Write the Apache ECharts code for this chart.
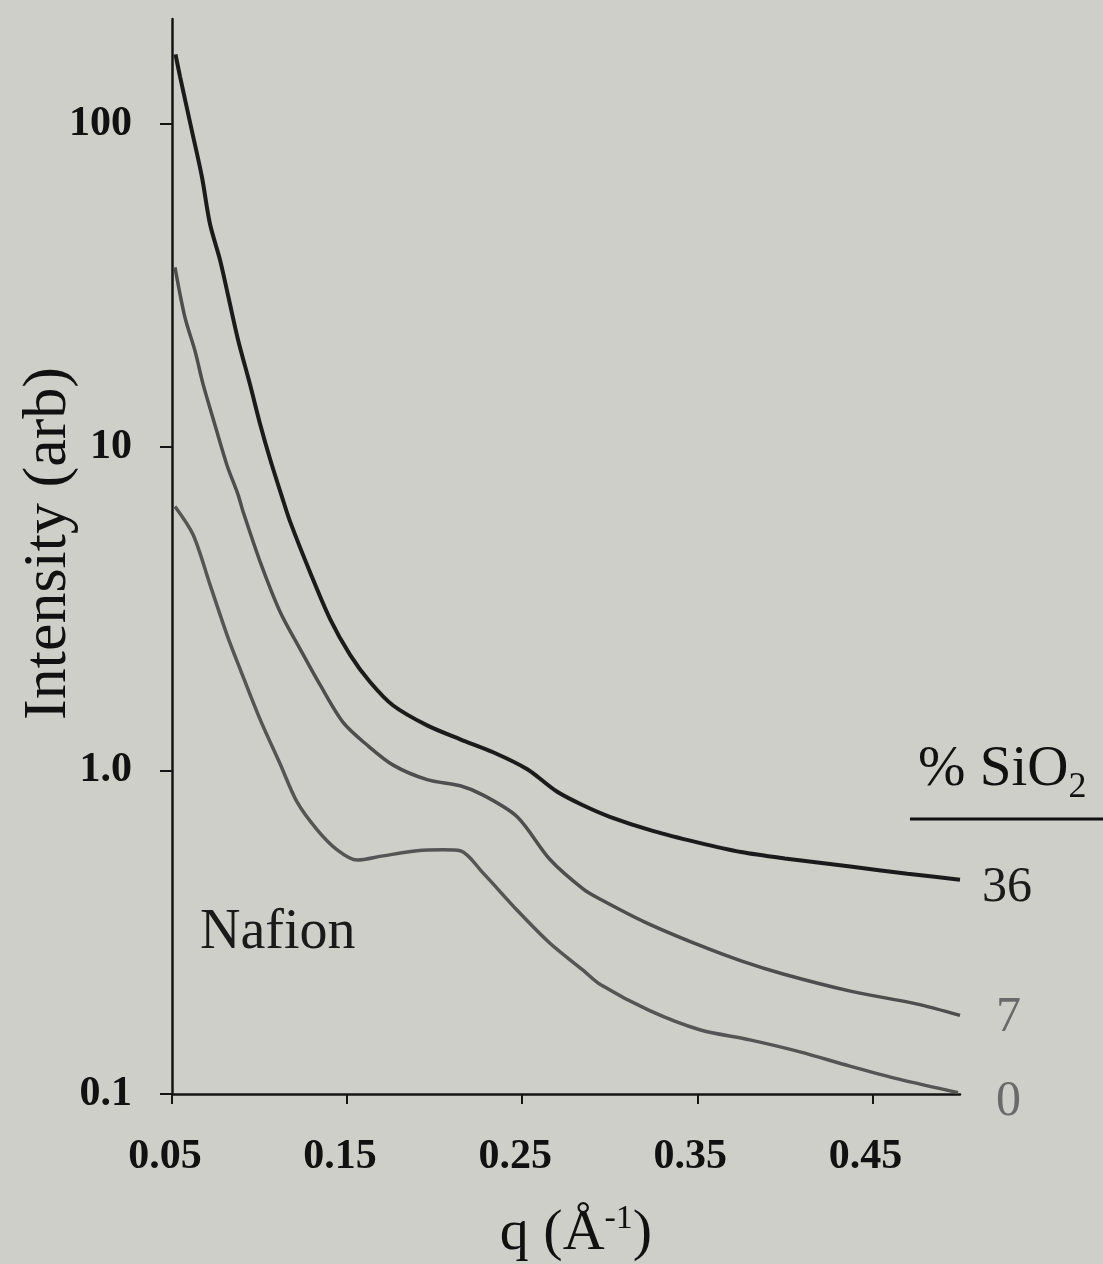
<!DOCTYPE html>
<html>
<head>
<meta charset="utf-8">
<script src="https://cdn.jsdelivr.net/npm/echarts@6/dist/echarts.min.js"></script>
<style>
html,body{margin:0;padding:0;background:#cdcfc8;}
#c{width:1103px;height:1264px;}
</style>
</head>
<body>
<div id="c"></div>
<script>
// q (1/Å) and intensity (arb), one pair of arrays per curve
const q36 = [0.052,0.0546,0.0614,0.0671,0.0717,0.0774,0.082,0.0877,0.0946,0.1003,0.106,0.1129,0.1174,0.1289,0.1403,0.1517,0.1631,0.1763,0.1957,0.2146,0.2334,0.2529,0.27,0.285,0.30,0.325,0.35,0.375,0.40,0.4374,0.47,0.5];
const i36 = [164,140,95,68.5,49,38,29.5,21.5,15.6,11.8,9.2,7.0,5.9,4.1,2.94,2.28,1.88,1.59,1.38,1.25,1.14,1.01,0.86,0.78,0.72,0.65,0.60,0.56,0.535,0.505,0.48,0.46];
const q7 = [0.0517,0.0574,0.0631,0.0677,0.0734,0.0814,0.0877,0.0906,0.1003,0.1117,0.1231,0.1346,0.1477,0.1614,0.1763,0.1957,0.2146,0.2277,0.2471,0.266,0.2849,0.2946,0.32,0.35,0.375,0.399,0.4374,0.475,0.5];
const i7 = [36,25.2,19.9,15.7,12.3,8.8,7.14,6.32,4.43,3.10,2.38,1.84,1.41,1.2,1.04,0.938,0.898,0.84,0.72,0.53,0.43,0.40,0.34,0.29,0.258,0.235,0.208,0.19,0.175];
const q0 = [0.0517,0.062,0.0717,0.0814,0.0889,0.1003,0.1117,0.1214,0.1329,0.1443,0.1557,0.1706,0.19,0.2049,0.2146,0.2277,0.2471,0.266,0.2849,0.2946,0.3228,0.3514,0.38,0.4086,0.4371,0.4657,0.4989];
const i0 = [6.56,5.37,3.76,2.63,2.06,1.44,1.05,0.80,0.656,0.569,0.529,0.545,0.565,0.569,0.565,0.482,0.37,0.292,0.241,0.218,0.181,0.158,0.147,0.135,0.122,0.111,0.101];
const xTicks = [0.05,0.15,0.25,0.35,0.45];
const yTicks = [0.1,1,10,100];
const yTickLabels = ['0.1','1.0','10','100'];
const seriesNames = ['36','7','0'];

const pairs = (xs, ys) => xs.map((x, k) => [x, ys[k]]);
const serif = 'Liberation Serif';
const chart = echarts.init(document.getElementById('c'), null, {renderer:'canvas'});

function lineSeries(name, xs, ys, color, width, labelColor, dist, dy){
  return {
    type:'line', name, data: pairs(xs, ys), showSymbol:false, symbol:'none', smooth:0.3,
    lineStyle:{color, width}, itemStyle:{color},
    endLabel:{show:true, formatter: name, distance: dist, offset:[0, dy], color: labelColor,
      fontFamily: serif, fontSize: 50},
    z: 3
  };
}

chart.setOption({
  backgroundColor:'#cdcfc8',
  animation:false,
  grid:{left:172, right:143, top:19, bottom:170, containLabel:false, outerBoundsMode:'none'},
  xAxis:{
    type:'value', min:0.05, max:0.5,
    axisLine:{show:true, lineStyle:{color:'#151515', width:2.5}},
    axisTick:{show:true, customValues: xTicks, length:10, inside:false, lineStyle:{color:'#151515', width:2}},
    axisLabel:{customValues: xTicks, margin:42, fontFamily: serif, fontWeight:'bold', fontSize:42, color:'#111',
      padding:[0,14,0,0], formatter: v => String(+v.toFixed(2))},
    splitLine:{show:false},
    name:'{a|q (Å}{s|-1}{a|)}', nameLocation:'middle', nameGap:108,
    nameTextStyle:{padding:[0,0,0,20], rich:{
      a:{fontFamily: serif, fontSize:58, color:'#111', lineHeight:64, verticalAlign:'middle'},
      s:{fontFamily: serif, fontSize:34, color:'#111', lineHeight:46, verticalAlign:'top'}
    }}
  },
  yAxis:{
    type:'log', logBase:10, min:0.1, max:211,
    axisLine:{show:true, lineStyle:{color:'#151515', width:2.5}},
    axisTick:{show:true, customValues: yTicks, length:12, lineStyle:{color:'#151515', width:2}},
    axisLabel:{customValues: yTicks, margin:40, fontFamily: serif, fontWeight:'bold', fontSize:42, color:'#111',
      padding:[10,0,0,0],
      formatter: v => { const k = yTicks.findIndex(t => Math.abs(Math.log10(t) - Math.log10(v)) < 0.01); return k >= 0 ? yTickLabels[k] : ''; }},
    splitLine:{show:false},
    minorTick:{show:false},
    name:'Intensity (arb)', nameLocation:'middle', nameGap:92, nameMoveOverlap:false,
    nameTextStyle:{fontFamily: serif, fontSize:62, color:'#111', padding:[0,0,0,26]}
  },
  series:[
    lineSeries(seriesNames[0], q36, i36, '#1b1b1b', 4, '#1b1b1b', 22, 8),
    lineSeries(seriesNames[1], q7, i7, '#4e4e4e', 3.5, '#6a6a6a', 36, 2),
    lineSeries(seriesNames[2], q0, i0, '#555555', 3.5, '#6a6a6a', 38, 9)
  ],
  graphic:[
    {type:'text', left:918, top:742, style:{text:'{a|% SiO}{b|2}', rich:{
      a:{fontFamily: serif, fontSize:57, fill:'#111', lineHeight:70, verticalAlign:'middle'},
      b:{fontFamily: serif, fontSize:36, fill:'#111', lineHeight:40, verticalAlign:'bottom'}
    }}},
    {type:'line', shape:{x1:910, y1:819, x2:1103, y2:819}, style:{stroke:'#111', lineWidth:3}},
    {type:'text', left:200, top:905, style:{text:'Nafion', fontFamily: serif, fontSize:56, fill:'#1a1a1a'}}
  ]
});
</script>
</body>
</html>
